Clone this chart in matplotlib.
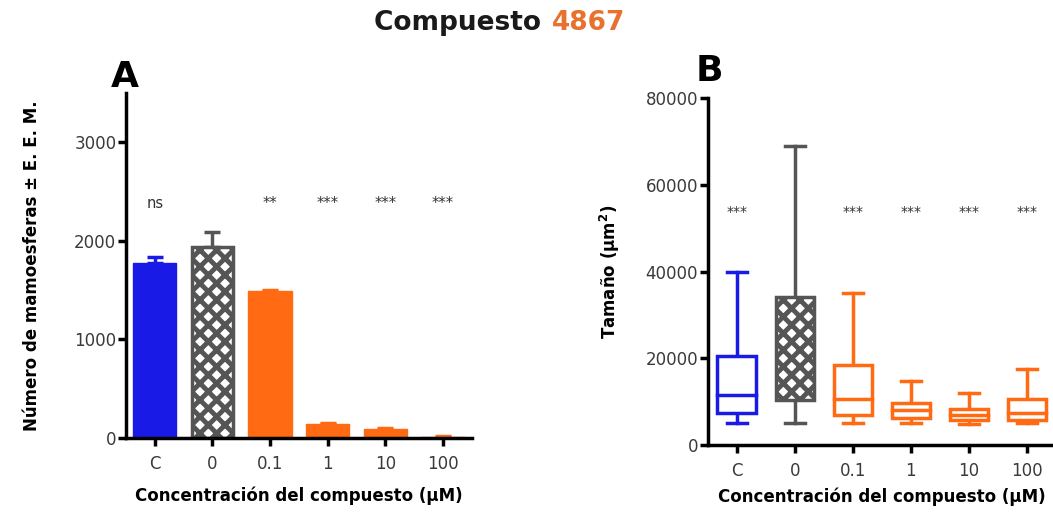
import matplotlib.pyplot as plt
import numpy as np

plt.rcParams['font.family'] = ['DejaVu Sans']
plt.rcParams['hatch.linewidth'] = 3.5

# Data
categories = ['C', '0', '0.1', '1', '10', '100']
bar_means = [1780, 1935, 1490, 140, 90, 15]
bar_sem = [60, 150, 10, 10, 10, 5]
sig_a = ['ns', '', '**', '***', '***', '***']

box_low = [5000, 5000, 5000, 5000, 4800, 5000]
box_q1 = [7400, 10300, 6900, 6300, 5800, 5800]
box_med = [11500, 17000, 10600, 8000, 7000, 7300]
box_q3 = [20500, 34100, 18400, 9600, 8200, 10600]
box_high = [40000, 69000, 35000, 14700, 12000, 17500]
sig_b = ['***', '', '***', '***', '***', '***']

blue = '#1a1ae6'
orange = '#ff6a13'
gray = '#555555'
colors = [blue, gray, orange, orange, orange, orange]

fig = plt.figure(figsize=(10.53, 5.16), dpi=100)
axA = fig.add_axes([0.1197, 0.151, 0.3283, 0.669])
axB = fig.add_axes([0.672, 0.1376, 0.331, 0.6724])

x = np.arange(len(categories))

# Panel A - bars
for i in range(len(categories)):
    if i == 1:
        axA.bar(x[i], bar_means[i], width=0.72, color='white', edgecolor=gray,
                hatch='xx', linewidth=2.5, zorder=2)
    else:
        axA.bar(x[i], bar_means[i], width=0.75, color=colors[i], edgecolor=colors[i],
                linewidth=1, zorder=2)
    axA.errorbar(x[i], bar_means[i], yerr=[[0], [bar_sem[i]]], color=colors[i],
                 capsize=6, capthick=2.5, elinewidth=2.5, zorder=1)
    axA.text(x[i], 2380, sig_a[i], ha='center', va='center', fontsize=10.5, color='#333333')

axA.set_xlim(-0.5, 5.5)
axA.set_ylim(0, 3500)
axA.set_yticks([0, 1000, 2000, 3000])
axA.set_xticks(x)
axA.set_xticklabels(categories)
axA.set_ylabel('Número de mamoesferas ± E. E. M.', fontsize=12, fontweight='bold', labelpad=24)
axA.set_xlabel('Concentración del compuesto (µM)', fontsize=12, fontweight='bold', labelpad=10)
axA.tick_params(axis='x', pad=6)

# Panel B - box plots
for i in range(len(categories)):
    c = colors[i]
    w = 0.66
    if i == 1:
        axB.bar(x[i], box_q3[i] - box_q1[i], bottom=box_q1[i], width=w, color='white',
                edgecolor=gray, hatch='xx', linewidth=2.5, zorder=2)
    else:
        axB.bar(x[i], box_q3[i] - box_q1[i], bottom=box_q1[i], width=w, color='white',
                edgecolor=c, linewidth=2.5, zorder=2)
        axB.plot([x[i] - w / 2, x[i] + w / 2], [box_med[i], box_med[i]], color=c, lw=2.5, zorder=3)
    axB.plot([x[i], x[i]], [box_q3[i], box_high[i]], color=c, lw=2.5, zorder=1)
    axB.plot([x[i], x[i]], [box_low[i], box_q1[i]], color=c, lw=2.5, zorder=1)
    axB.plot([x[i] - 0.17, x[i] + 0.17], [box_high[i], box_high[i]], color=c, lw=2.5)
    axB.plot([x[i] - 0.17, x[i] + 0.17], [box_low[i], box_low[i]], color=c, lw=2.5)
    axB.text(x[i], 53700, sig_b[i], ha='center', va='center', fontsize=10, color='#333333')

axB.set_xlim(-0.5, 5.5)
axB.set_ylim(0, 80000)
axB.set_yticks([0, 20000, 40000, 60000, 80000])
axB.set_xticks(x)
axB.set_xticklabels(categories)
axB.set_ylabel('Tamaño (µm$^\\mathbf{2}$)', fontsize=12, fontweight='bold', labelpad=17)
axB.set_xlabel('Concentración del compuesto (µM)', fontsize=12, fontweight='bold', labelpad=6)
axB.tick_params(axis='x', pad=6)

for ax in (axA, axB):
    ax.spines['top'].set_visible(False)
    ax.spines['right'].set_visible(False)
    ax.spines['left'].set_linewidth(2.5)
    ax.spines['bottom'].set_linewidth(2.5)
    ax.tick_params(axis='both', width=2.5, length=6, labelsize=12, labelcolor='#3a3a3a')
    ax.tick_params(axis='y', pad=1)

fig.text(0.105, 0.818, 'A', fontsize=26, fontweight='bold', va='bottom')
fig.text(0.661, 0.829, 'B', fontsize=26, fontweight='bold', va='bottom')

fig.text(0.522, 0.955, 'Compuesto ', fontsize=19, fontweight='bold', ha='right', va='center', color='#1a1a1a')
fig.text(0.524, 0.955, '4867', fontsize=19, fontweight='bold', ha='left', va='center', color='#e8712e')

fig.savefig('out.png', dpi=100)
